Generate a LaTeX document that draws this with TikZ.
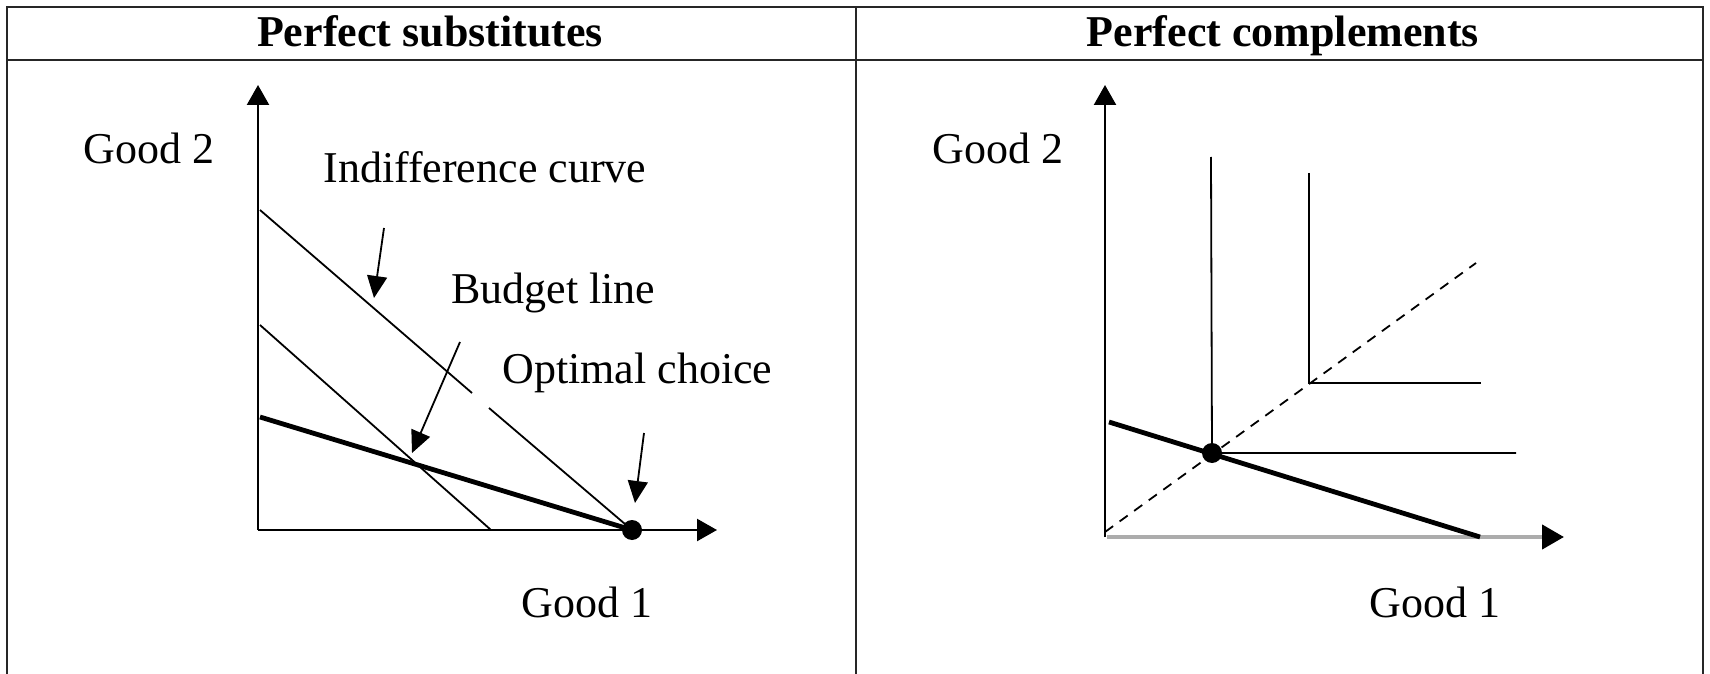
\documentclass[tikz,border=0pt]{standalone}
\usepackage{fontspec}
\setmainfont{Liberation Serif}
\usetikzlibrary{arrows.meta}
\begin{document}
\begin{tikzpicture}[x=0.5pt,y=-0.5pt,
  frame/.style={line width=1.2pt,black!85},
  axis/.style={line width=1.2pt,-{Triangle[length=10pt,width=11pt]}},
  thinline/.style={line width=0.9pt},
  budget/.style={line width=2.4pt},
  pointer/.style={line width=0.9pt,-{Triangle[length=11pt,width=10pt]}},
  lbl/.style={font=\fontsize{22pt}{26pt}\selectfont,inner sep=0pt,anchor=base west},
  ttl/.style={font=\fontsize{22pt}{26pt}\selectfont\bfseries,inner sep=0pt,anchor=base},
  dot/.style={circle,fill=black,minimum size=10pt,inner sep=0pt}]
\useasboundingbox (0,0) rectangle (1710,674);
% table
\draw[frame] (7,674) -- (7,7) -- (1703,7) -- (1703,674);
\draw[frame] (7,60) -- (1703,60);
\draw[frame] (856,7) -- (856,674);
\node[ttl] (t1) at (430,47) {Perfect substitutes};
\node[ttl] (t2) at (1283,47) {Perfect complements};
% ---- left panel
\coordinate (o1) at (258,530);
\coordinate (y1) at (258,85);
\coordinate (x1) at (717,530);
\draw[axis] (o1) -- (y1);
\draw[axis] (o1) -- (x1);
\coordinate (ica) at (260,210);
\coordinate (icg1) at (472,393);
\coordinate (icg2) at (489,408);
\coordinate (icb) at (260,325);
\coordinate (icbe) at (491,530);
\coordinate (bl) at (260,417);
\node[dot] (opt1) at (632,530) {};
\draw[thinline] (ica) -- (icg1);
\draw[thinline] (icg2) -- (opt1.center);
\draw[thinline] (icb) -- (icbe);
\draw[budget] (bl) -- (opt1.center);
\node[lbl] (g2a) at (83,163) {Good 2};
\node[lbl] (g1a) at (521,617) {Good 1};
\node[lbl] (ic) at (323,183) {Indifference curve};
\node[lbl] (bud) at (451,303) {Budget line};
\node[lbl] (oc) at (502,383) {Optimal choice};
\coordinate (a1s) at (384,228);
\coordinate (a1e) at (374,298);
\coordinate (a2s) at (460,342);
\coordinate (a2e) at (412,453);
\coordinate (a3s) at (644,433);
\coordinate (a3e) at (635,503);
\draw[pointer] (a1s) -- (a1e);
\draw[pointer] (a2s) -- (a2e);
\draw[pointer] (a3s) -- (a3e);
% ---- right panel
\coordinate (o2) at (1105,537);
\coordinate (y2) at (1105,85);
\coordinate (x2s) at (1107,537);
\coordinate (x2) at (1564,537);
\draw[line width=2.2pt,gray!65,-{Triangle[length=11pt,width=12pt,color=black]}] (x2s) -- (x2);
\draw[axis] (o2) -- (y2);
\coordinate (bl2) at (1109,422);
\coordinate (bl2e) at (1480,537);
\coordinate (ds) at (1105,532);
\coordinate (de) at (1476,263);
\draw[thinline,dash pattern=on 5pt off 4pt] (ds) -- (de);
\node[dot] (opt2) at (1212,453) {};
\coordinate (l1t) at (1211,157);
\coordinate (l1r) at (1516,453);
\coordinate (l2t) at (1309,173);
\coordinate (l2c) at (1309,383);
\coordinate (l2r) at (1481,383);
\draw[thinline] (l1t) -- (opt2.center) -- (l1r);
\draw[thinline] (l2t) -- (l2c) -- (l2r);
\draw[budget] (bl2) -- (bl2e);
\node[lbl] (g2b) at (932,163) {Good 2};
\node[lbl] (g1b) at (1369,617) {Good 1};
\end{tikzpicture}
\end{document}
